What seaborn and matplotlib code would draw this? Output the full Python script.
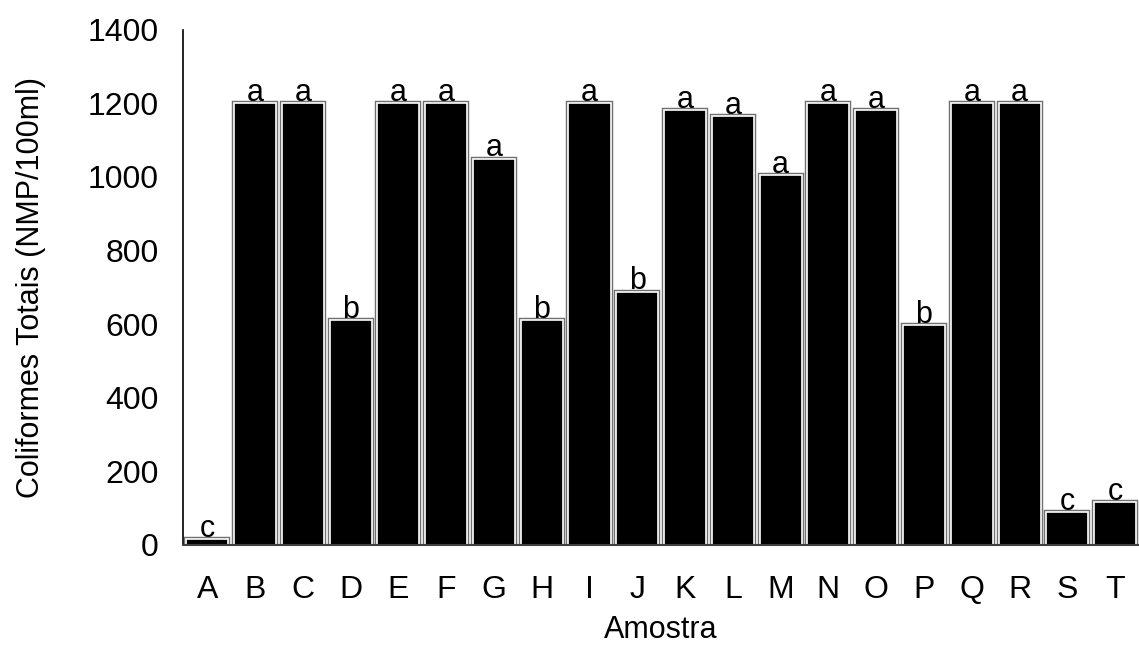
import matplotlib
matplotlib.use("Agg")
import matplotlib.pyplot as plt
import matplotlib.patheffects as pe
import seaborn as sns
import pandas as pd

amostras = list("ABCDEFGHIJKLMNOPQRST")
coliformes = [15, 1200, 1200, 610, 1200, 1200, 1050, 610, 1200, 688,
              1182, 1165, 1005, 1200, 1182, 598, 1200, 1200, 88, 115]
letras = ["c", "a", "a", "b", "a", "a", "a", "b", "a", "b",
          "a", "a", "a", "a", "a", "b", "a", "a", "c", "c"]
y_ticks = [0, 200, 400, 600, 800, 1000, 1200, 1400]

df = pd.DataFrame({"Amostra": amostras, "Coliformes": coliformes})

sns.set_style("white")
plt.rcParams["font.family"] = ["Liberation Sans", "DejaVu Sans"]
plt.rcParams["text.color"] = "black"
plt.rcParams["axes.labelcolor"] = "black"
plt.rcParams["xtick.color"] = "black"
plt.rcParams["ytick.color"] = "black"

fig = plt.figure(figsize=(11.39, 6.47), dpi=100)
ax = fig.add_axes([0.161, 0.158, 0.839, 0.796])

sns.barplot(data=df, x="Amostra", y="Coliformes", color="black",
            width=0.88, saturation=1, ax=ax)

# double outline: gray outer ring, white inner ring
for bar in ax.patches:
    bar.set_facecolor("black")
    bar.set_edgecolor("white")
    bar.set_linewidth(1.2)
    bar.set_path_effects([pe.Stroke(linewidth=3.2, foreground="#707070"), pe.Normal()])

for i, (v, l) in enumerate(zip(coliformes, letras)):
    ax.text(i, v + 6, l, ha="center", va="baseline", fontsize=22)

ax.set_xlim(-0.5, len(amostras) - 0.5)
ax.set_ylim(0, 1400)
ax.set_yticks(y_ticks)
ax.tick_params(axis="both", length=0, labelsize=23)
ax.tick_params(axis="y", pad=18)
ax.tick_params(axis="x", pad=22)
ax.set_xlabel("Amostra", fontsize=22, labelpad=7)
ax.set_ylabel("Coliformes Totais (NMP/100ml)", fontsize=22, labelpad=30)

sns.despine(ax=ax)
ax.spines["left"].set_color("black")
ax.spines["bottom"].set_color("#404040")
ax.spines["left"].set_linewidth(1.2)
ax.spines["bottom"].set_linewidth(1.5)

fig.savefig("out.png", dpi=100)
